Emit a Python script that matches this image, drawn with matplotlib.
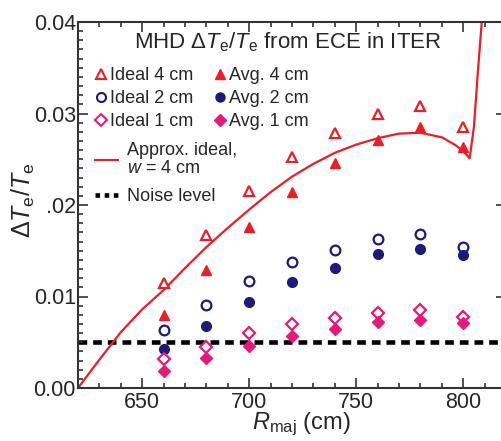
import matplotlib
matplotlib.use("Agg")
import matplotlib.pyplot as plt
from matplotlib.lines import Line2D
from matplotlib.ticker import MultipleLocator

plt.rcParams['font.family'] = ['Liberation Sans', 'DejaVu Sans']
plt.rcParams['mathtext.fontset'] = 'custom'
plt.rcParams['mathtext.rm'] = 'Liberation Sans'
plt.rcParams['mathtext.it'] = 'Liberation Sans:italic'

# data
r_pts = [660, 680, 700, 720, 740, 760, 780, 800]
ideal_4 = [0.0115, 0.0167, 0.0215, 0.0252, 0.0279, 0.0299, 0.0308, 0.0285]
avg_4 = [0.0080, 0.0129, 0.0176, 0.0214, 0.0246, 0.0271, 0.0285, 0.0263]
ideal_2 = [0.0063, 0.0091, 0.0117, 0.0138, 0.0151, 0.0163, 0.0168, 0.0154]
avg_2 = [0.0043, 0.0068, 0.0094, 0.0116, 0.0131, 0.0146, 0.0152, 0.0145]
ideal_1 = [0.0032, 0.0045, 0.0060, 0.0070, 0.0076, 0.0082, 0.0085, 0.0078]
avg_1 = [0.0019, 0.0033, 0.0046, 0.0057, 0.0064, 0.0072, 0.0074, 0.0071]

r_curve = [620, 630, 640, 650, 660, 670, 680, 690, 700, 710, 720, 730, 740,
           750, 760, 770, 780, 790, 796, 800, 803, 805, 807, 809]
approx_curve = [0.0, 0.0031, 0.0061, 0.0086, 0.0107, 0.0131, 0.0154, 0.0175,
                0.0195, 0.0214, 0.0231, 0.0245, 0.0257, 0.0266, 0.0273,
                0.0278, 0.0279, 0.0274, 0.0266, 0.0259, 0.0251, 0.0285,
                0.0350, 0.0410]
noise_level = 0.005

red = '#ee1c25'
navy = '#1b1a7e'
pink = '#e8177a'
txt = '#262626'

fig = plt.figure(figsize=(5.01, 4.41), dpi=100)
ax = fig.add_axes([78 / 501, 53 / 441, 428 / 501, 366 / 441])

ax.plot(r_curve, approx_curve, color=red, lw=1.6, zorder=2)
ax.axhline(noise_level, color='black', lw=3.3, ls=(0, (1.9, 1.3)), zorder=1)

ms = 7
ax.plot(r_pts, ideal_4, ls='none', marker='^', ms=ms, mfc='white', mec=red, mew=1.6)
ax.plot(r_pts, avg_4, ls='none', marker='^', ms=ms, mfc=red, mec=red)
ax.plot(r_pts, ideal_2, ls='none', marker='o', ms=ms, mfc='white', mec=navy, mew=1.6)
ax.plot(r_pts, avg_2, ls='none', marker='o', ms=ms, mfc=navy, mec=navy)
ax.plot(r_pts, ideal_1, ls='none', marker='D', ms=6.5, mfc='white', mec=pink, mew=1.6)
ax.plot(r_pts, avg_1, ls='none', marker='D', ms=6.5, mfc=pink, mec=pink)

ax.set_xlim(620, 820)
ax.set_ylim(0, 0.04)
ax.xaxis.set_major_locator(MultipleLocator(50))
ax.xaxis.set_minor_locator(MultipleLocator(10))
ax.yaxis.set_minor_locator(MultipleLocator(0.001))
ax.set_yticks([0, 0.01, 0.02, 0.03, 0.04])
ax.set_yticklabels(['0.00', '0.01', '.02', '0.03', '0.04'])
ax.tick_params(which='both', direction='in', top=True, right=True,
               labelsize=15.5, colors='#333333', labelcolor=txt, width=1.2)
ax.tick_params(which='major', length=7, pad=3)
ax.tick_params(axis='y', which='major', pad=1.5)
ax.tick_params(which='minor', length=3.5)
for s in ax.spines.values():
    s.set_linewidth(1.5)
    s.set_color('#333333')

ax.set_xlabel(r'$R_{\mathrm{maj}}$ (cm)', fontsize=17, color=txt)
ax.xaxis.set_label_coords(0.523, -0.062)
ax.set_ylabel(r'$\Delta T_{\mathrm{e}}/T_{\mathrm{e}}$', fontsize=18, color=txt)
ax.yaxis.set_label_coords(-0.096, 0.514)

ax.text(0.489, 0.945, r'MHD $\Delta T_{\mathrm{e}}/T_{\mathrm{e}}$ from ECE in ITER',
        transform=ax.transAxes, ha='center', va='center', fontsize=16,
        color=txt)

h_marks = [
    Line2D([], [], ls='none', marker='^', ms=6.5, mfc='white', mec=red, mew=1.5),
    Line2D([], [], ls='none', marker='o', ms=6.5, mfc='white', mec=navy, mew=1.5),
    Line2D([], [], ls='none', marker='D', ms=6, mfc='white', mec=pink, mew=1.5),
    Line2D([], [], ls='none', marker='^', ms=6.5, mfc=red, mec=red),
    Line2D([], [], ls='none', marker='o', ms=6.5, mfc=navy, mec=navy),
    Line2D([], [], ls='none', marker='D', ms=6, mfc=pink, mec=pink),
]
l_marks = ['Ideal 4 cm', 'Ideal 2 cm', 'Ideal 1 cm',
           'Avg. 4 cm', 'Avg. 2 cm', 'Avg. 1 cm']
leg1 = ax.legend(h_marks, l_marks, ncol=2, loc='upper left',
                 bbox_to_anchor=(0.04, 0.876), frameon=False, fontsize=13,
                 handlelength=0.6, handletextpad=0.2, columnspacing=1.2,
                 labelspacing=0.33, borderaxespad=0, borderpad=0,
                 labelcolor=txt)
ax.add_artist(leg1)

h_lines = [
    Line2D([], [], color=red, lw=1.5),
    Line2D([], [], color='black', lw=3.3, ls=(0, (1.0, 1.0))),
]
leg2 = ax.legend(h_lines, ['Approx. ideal,\n$w$ = 4 cm', 'Noise level'],
                 loc='upper left', bbox_to_anchor=(0.04, 0.672),
                 frameon=False, fontsize=13, handlelength=1.25,
                 handletextpad=0.5, labelspacing=0.65, borderaxespad=0,
                 borderpad=0, labelcolor=txt)
leg2.get_texts()[0].set_linespacing(1.05)

fig.savefig('out.png', dpi=100)
